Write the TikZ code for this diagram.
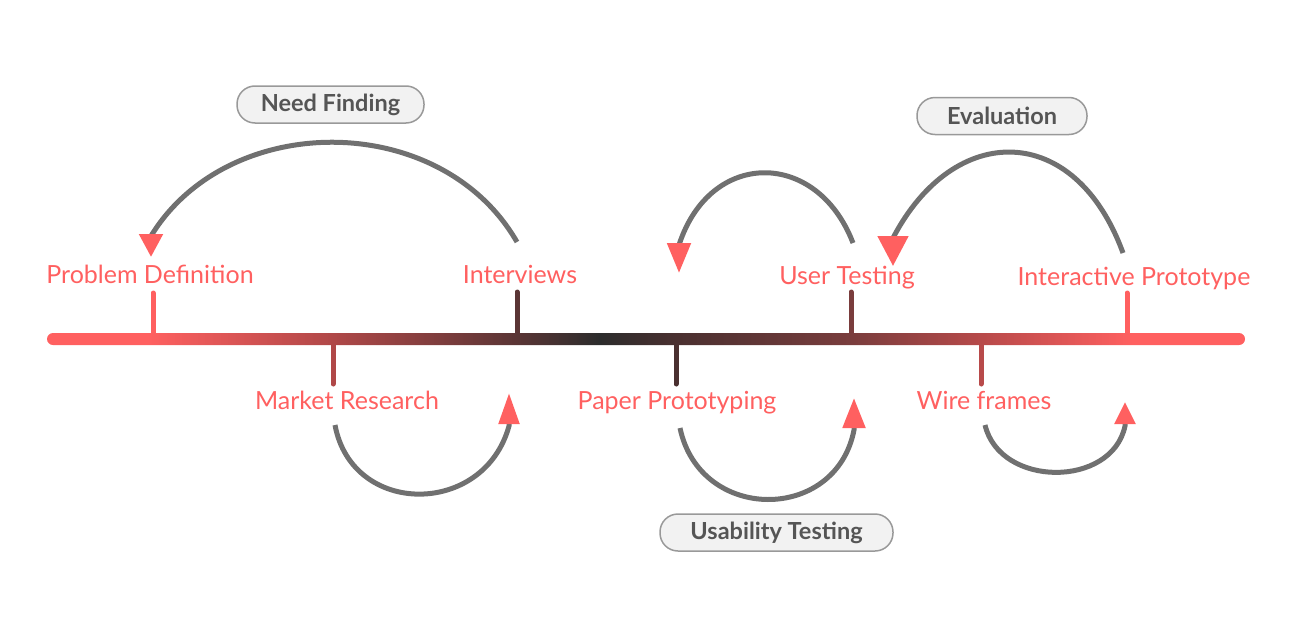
\documentclass[tikz,border=0pt]{standalone}
\usepackage{fontspec}
\setmainfont{Lato}
\usetikzlibrary{arrows.meta}
\definecolor{lred}{HTML}{FF6060}
\definecolor{dk}{HTML}{2C2C2C}
\definecolor{arcg}{HTML}{707070}
\definecolor{pillf}{HTML}{F2F2F2}
\definecolor{pilld}{HTML}{999999}
\definecolor{pillt}{HTML}{555555}
\definecolor{cMR}{HTML}{B04848}
\definecolor{cIV}{HTML}{5A3535}
\definecolor{cPP}{HTML}{4A3030}
\definecolor{cUT}{HTML}{7A3D3D}
\definecolor{cWF}{HTML}{B84A4A}
\pgfdeclarehorizontalshading{tline}{100bp}{color(0bp)=(lred); color(29.19bp)=(lred); color(36.87bp)=(cMR); color(44.59bp)=(cIV); color(48.07bp)=(dk); color(51.26bp)=(cPP); color(58.6bp)=(cUT); color(64.05bp)=(cWF); color(70.3bp)=(lred); color(100bp)=(lred)}
\begin{document}
\begin{tikzpicture}[x=1pt,y=-1pt,
  lbl/.style={text=lred,font=\fontsize{25}{28}\selectfont,anchor=base,inner sep=0pt},
  pill/.style={draw=pilld,fill=pillf,line width=1.5pt,rounded corners=18pt,minimum height=37pt,inner sep=0pt,text=pillt,font=\fontsize{23.5}{26}\selectfont\bfseries},
  tick/.style={line width=5pt,line cap=round},
  arc/.style={draw=arcg,line width=5pt}]
\useasboundingbox (0,0) rectangle (1296,637);
% labels
\node[lbl] (pd) at (150,283) {Problem Definition};
\node[lbl] (iv) at (520,283) {Interviews};
\node[lbl] (ut) at (847,284) {User Testing};
\node[lbl] (ip) at (1134,285) {Interactive Prototype};
\node[lbl] (mr) at (347,409) {Market Research};
\node[lbl] (pp) at (677,409) {Paper Prototyping};
\node[lbl] (wf) at (984,409) {Wire frames};
% pills
\node[pill,minimum width=187pt] (nf) at (330.5,104.5) {Need Finding};
\node[pill,minimum width=170pt] (ev) at (1002,116) {Evaluation};
\node[pill,minimum width=233pt] (us) at (776.5,532.5) {Usability Testing};
% tick coordinates
\coordinate (tpd) at (153,293); \coordinate (bpd) at (153,339);
\coordinate (tiv) at (517,292); \coordinate (biv) at (517,339);
\coordinate (tut) at (851,292); \coordinate (but) at (851,339);
\coordinate (tip) at (1127,293); \coordinate (bip) at (1127,339);
\coordinate (tmr) at (333,384); \coordinate (bmr) at (333,339);
\coordinate (tpp) at (676,384); \coordinate (bpp) at (676,339);
\coordinate (twf) at (981,384); \coordinate (bwf) at (981,339);
\draw[tick,lred] (bpd) -- (tpd);
\draw[tick,cIV] (biv) -- (tiv);
\draw[tick,cUT] (but) -- (tut);
\draw[tick,lred] (bip) -- (tip);
\draw[tick,cMR] (bmr) -- (tmr);
\draw[tick,cPP] (bpp) -- (tpp);
\draw[tick,cWF] (bwf) -- (twf);
% main line
\shade[shading=tline,rounded corners=6pt] (47,333) rectangle (1245,345);
% arcs
\coordinate (a1s) at (517,242); \coordinate (a1m) at (151,236); \coordinate (a1e) at (151,257);
\coordinate (a2s) at (853,243); \coordinate (a2m) at (679,245); \coordinate (a2e) at (679,273);
\coordinate (a3s) at (1123,253); \coordinate (a3m) at (893,238); \coordinate (a3e) at (893,266);
\coordinate (a4s) at (335,425); \coordinate (a4m) at (509,426); \coordinate (a4e) at (509,393);
\coordinate (a5s) at (680,428); \coordinate (a5m) at (854,430); \coordinate (a5e) at (854,398);
\coordinate (a6s) at (985,425); \coordinate (a6m) at (1125,426); \coordinate (a6e) at (1125,402);
\draw[arc,-{Triangle[length=23pt,width=23pt,color=lred,fill=lred]}] (a1s) .. controls (441,110) and (228,110) .. (a1m) -- (a1e);
\draw[arc,-{Triangle[length=30pt,width=23pt,color=lred,fill=lred]}] (a2s) .. controls (817,149) and (710,149) .. (a2m) -- (a2e);
\draw[arc,-{Triangle[length=30pt,width=30pt,color=lred,fill=lred]}] (a3s) .. controls (1075,121) and (954,121) .. (a3m) -- (a3e);
\draw[arc,-{Triangle[length=31pt,width=20pt,color=lred,fill=lred]}] (a4s) .. controls (352,517) and (484,517) .. (a4m) -- (a4e);
\draw[arc,-{Triangle[length=30pt,width=22pt,color=lred,fill=lred]}] (a5s) .. controls (700,523) and (836,523) .. (a5m) -- (a5e);
\draw[arc,-{Triangle[length=22pt,width=20pt,color=lred,fill=lred]}] (a6s) .. controls (1000,488) and (1112,488) .. (a6m) -- (a6e);
\end{tikzpicture}
\end{document}
